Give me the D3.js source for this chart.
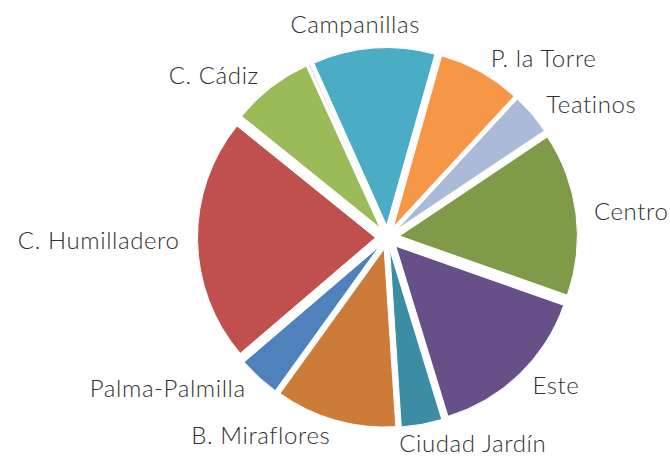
<!DOCTYPE html>
<html>
<head>
<meta charset="utf-8">
<script src="https://cdn.jsdelivr.net/npm/d3@7"></script>
<style>
  body { margin: 0; background: #fff; }
  text { font-family: Lato, "Open Sans", sans-serif; font-weight: 300; letter-spacing: 0.6px; }
</style>
</head>
<body>
<div id="chart"></div>
<script>
// districts, clockwise starting at the Centro slice
var districts = ["Centro", "Este", "Ciudad Jardín", "B. Miraflores", "Palma-Palmilla",
                 "C. Humilladero", "C. Cádiz", "Churriana", "Campanillas", "P. la Torre", "Teatinos"];
var shares = [14.8, 14.9, 3.7, 11.0, 3.8, 22.1, 7.4, 0.1, 11.1, 7.5, 3.75];
var colors = ["#7f9a48", "#674f88", "#3c8da3", "#cc7b38", "#4f81bd",
              "#c0504d", "#9bbb59", "#8064a2", "#4bacc6", "#f79646", "#aabad7"];

var width = 670, height = 459;
var cx = 387.5, cy = 237.5;
var radius = 178, explode = 12;

var svg = d3.select("#chart").append("svg")
    .attr("width", width)
    .attr("height", height);

var g = svg.append("g")
    .attr("transform", `translate(${cx}, ${cy})`);

var data = districts.map(function(d, i) {
  return { name: d, value: shares[i], color: colors[i] };
});

var start = 56.2 * Math.PI / 180;
var pie = d3.pie()
    .sort(null)
    .value(d => d.value)
    .startAngle(start)
    .endAngle(start + 2 * Math.PI);

var arc = d3.arc().innerRadius(0).outerRadius(radius);
var arcs = pie(data);

function mid(d) { return (d.startAngle + d.endAngle) / 2; }

g.selectAll("path.slice")
    .data(arcs)
    .enter()
    .append("path")
    .attr("class", "slice")
    .attr("d", arc)
    .attr("fill", d => d.data.color)
    .attr("stroke", "#fff")
    .attr("stroke-width", 1)
    .attr("transform", function(d) {
      var a = mid(d);
      return `translate(${explode * Math.sin(a)}, ${-explode * Math.cos(a)})`;
    });

// outside-end labels
var fontSize = 24;
var labelR = radius + explode + 15;
var labels = g.selectAll("text.lbl")
    .data(arcs.filter(d => d.data.value >= 1))
    .enter()
    .append("text")
    .attr("class", "lbl")
    .attr("font-size", fontSize)
    .attr("fill", "#303030")
    .attr("text-anchor", "middle")
    .text(d => d.data.name);

var boxes = [];
labels.each(function(d) {
  var w = this.getComputedTextLength();
  var h = fontSize;
  var a = mid(d);
  var s = Math.sin(a), c = -Math.cos(a);
  var px = labelR * s, py = labelR * c;
  var fx = Math.max(-1, Math.min(1, 3.5 * s));
  var fy = c * (1 - Math.abs(fx));
  boxes.push({ node: this, w: w, h: h,
               x: px + fx * (w / 2 + 3), y: py + fy * h / 2 });
});

// push overlapping labels apart
for (var it = 0; it < 60; it++) {
  for (var i = 0; i < boxes.length; i++) {
    for (var j = i + 1; j < boxes.length; j++) {
      var A = boxes[i], B = boxes[j];
      var ox = (A.w + B.w) / 2 + 4 - Math.abs(A.x - B.x);
      var oy = (A.h + B.h) / 2 - Math.abs(A.y - B.y);
      if (ox > 0 && oy > 0) {
        var dir = A.x < B.x ? -1 : 1;
        A.x += dir * ox / 2;
        B.x -= dir * ox / 2;
      }
    }
  }
}

boxes.forEach(function(b) {
  d3.select(b.node)
    .attr("x", b.x)
    .attr("y", b.y + fontSize * 0.36);
});
</script>
</body>
</html>
